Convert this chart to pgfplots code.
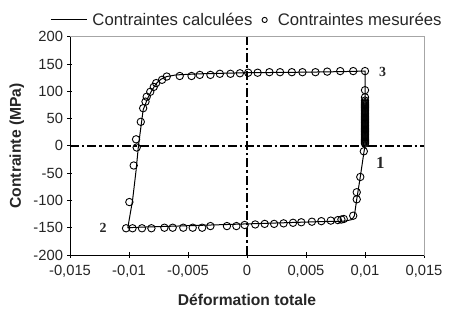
\documentclass[border=0pt]{standalone}
\usepackage{pgfplots}
\pgfplotsset{compat=1.18}
\usepackage{fontspec}
\setmainfont{Liberation Sans}
\newfontfamily\timesfont{Liberation Serif}
\usetikzlibrary{calc}

% Calculated stress-strain loop (path order: 1 -> 2 -> 3 -> 1)
\pgfplotstableread{
x y
0.0100 0
0.0099 -13
0.0096 -57
0.0093 -98
0.0091 -128
0.0089 -135
0.0083 -138
0.0060 -139
0.0030 -141
0.0000 -143
-0.0030 -145
-0.0060 -147
-0.0090 -149
-0.0101 -150
-0.0097 -100
-0.0094 -45
-0.0092 0
-0.0088 66
-0.0084 88
-0.0081 100
-0.0077 114
-0.0073 122
-0.0068 127
-0.0060 130
-0.0040 132
0.0000 134
0.0050 135
0.0080 136
0.0100 137
0.0100 0
}\calc

% Measured stresses
\pgfplotstableread{
x y
0.0100 102
0.0100 89
0.0100 83
0.0100 80
0.0100 78
0.0100 76
0.0100 74
0.0100 72
0.0100 70
0.0100 68
0.0100 66
0.0100 64
0.0100 62
0.0100 60
0.0100 58
0.0100 56
0.0100 54
0.0100 52
0.0100 50
0.0100 48
0.0100 46
0.0100 44
0.0100 42
0.0100 40
0.0100 38
0.0100 36
0.0100 34
0.0100 32
0.0100 30
0.0100 28
0.0100 26
0.0100 24
0.0100 22
0.0100 20
0.0100 18
0.0100 16
0.0100 14
0.0100 12
0.0100 10
0.0100 8
0.0100 6
0.0100 4
0.0099 -10
0.0096 -57
0.0093 -85
0.0093 -98
0.0090 -128
0.0082 -134
0.0080 -135
0.0077 -136
0.0071 -137
0.0063 -138
0.0055 -139
0.0046 -140
0.0039 -141
0.0031 -142
0.0023 -143
0.0015 -143
0.0007 -144
-0.0002 -145
-0.0009 -147
-0.0017 -147
-0.0031 -147
-0.0038 -150
-0.0046 -150
-0.0054 -150
-0.0063 -150
-0.0070 -150
-0.0081 -151
-0.0089 -151
-0.0097 -151
-0.01025 -151
-0.00997 -103
-0.0096 -36
-0.00935 -3
-0.0094 12
-0.0090 44
-0.0088 69
-0.0086 81
-0.0085 90
-0.0082 99
-0.0079 108
-0.0077 115
-0.0072 121
-0.0068 127
-0.0057 128
-0.0047 128
-0.0040 130
-0.0031 130
-0.0023 132
-0.0014 132
-0.0006 133
0.0001 134
0.0009 134
0.0019 135
0.0028 135
0.0038 135
0.0047 135
0.0058 135
0.0068 136
0.0079 137
0.0090 137
0.0100 137
}\mesure

\begin{document}
\begin{tikzpicture}
\begin{axis}[
  width=354bp, height=218.3bp,
  scale only axis,
  xmin=-0.015, xmax=0.015,
  ymin=-200, ymax=200,
  xtick={-0.015,-0.01,-0.005,0,0.005,0.01,0.015},
  xticklabels={{-0,015},{-0,01},{-0,005},{0},{0,005},{0,01},{0,015}},
  ytick={-200,-150,-100,-50,0,50,100,150,200},
  yticklabels={-200,-150,-100,-50,0,50,100,150,200},
  scaled x ticks=false,
  tick label style={font=\fontsize{14.8}{17}\selectfont, text=black!85},
  xticklabel style={yshift=-4bp},
  yticklabel style={xshift=-1bp},
  xtick pos=bottom, ytick pos=left,
  tick align=center,
  major tick length=5bp,
  tick style={black, line width=0.8bp},
  axis line style={draw=gray!70, line width=0.8bp},
  xlabel={Déformation totale},
  ylabel={Contrainte (MPa)},
  label style={font=\fontsize{15.7}{18}\bfseries\selectfont, text=black!85},
  xlabel style={at={(axis description cs:0.5,-0.206)}, anchor=center},
  ylabel style={at={(axis description cs:-0.15,0.5)}, anchor=center},
  legend columns=2,
  legend style={at={(0.5,1.035)}, anchor=south, draw=none, fill=none,
    font=\fontsize{16.8}{19}\selectfont, text=black!85,
    inner sep=0pt,
    /tikz/every even column/.append style={column sep=7bp}},
  clip=false,
]
% dash-dot reference lines through the origin
\draw[black, line width=1.5bp, dash pattern=on 9bp off 3bp on 2.5bp off 3bp]
  (axis cs:-0.015,0) -- (axis cs:0.015,0);
\draw[black, line width=1.5bp, dash pattern=on 9bp off 3bp on 2.5bp off 3bp]
  (axis cs:0,-200) -- (axis cs:0,200);
% black left and bottom axis lines
\draw[black, line width=0.8bp] (rel axis cs:0,1) -- (rel axis cs:0,0) -- (rel axis cs:1,0);

\addplot[black, line width=1bp, no markers,
  legend image code/.code={\draw[black, line width=1bp] (0bp,0) -- (36bp,0);
    \path (0bp,0) (39bp,0);}]
  table[x=x,y=y] {\calc};
\addlegendentry{Contraintes calculées}
\addplot[only marks, mark=o, mark size=3.7bp, black, mark options={line width=0.9bp},
  legend image code/.code={\draw[black, line width=0.9bp] (3bp,0) circle (2.6bp);
    \path (0bp,0) (14bp,0);}]
  table[x=x,y=y] {\mesure};
\addlegendentry{Contraintes mesurées}

\node[font=\timesfont\bfseries\fontsize{17}{20}\selectfont, text=black!85] at (axis cs:0.0113,-31) {1};
\node[font=\timesfont\bfseries\fontsize{14}{17}\selectfont, text=black!85] at (axis cs:-0.0122,-150) {2};
\node[font=\timesfont\bfseries\fontsize{14}{17}\selectfont, text=black!85] at (axis cs:0.0115,135) {3};
\end{axis}
\pgfresetboundingbox
\path[use as bounding box] ($(current axis.south west)+(-70bp,-65bp)$) rectangle ($(current axis.north east)+(25bp,36.7bp)$);
\end{tikzpicture}
\end{document}
